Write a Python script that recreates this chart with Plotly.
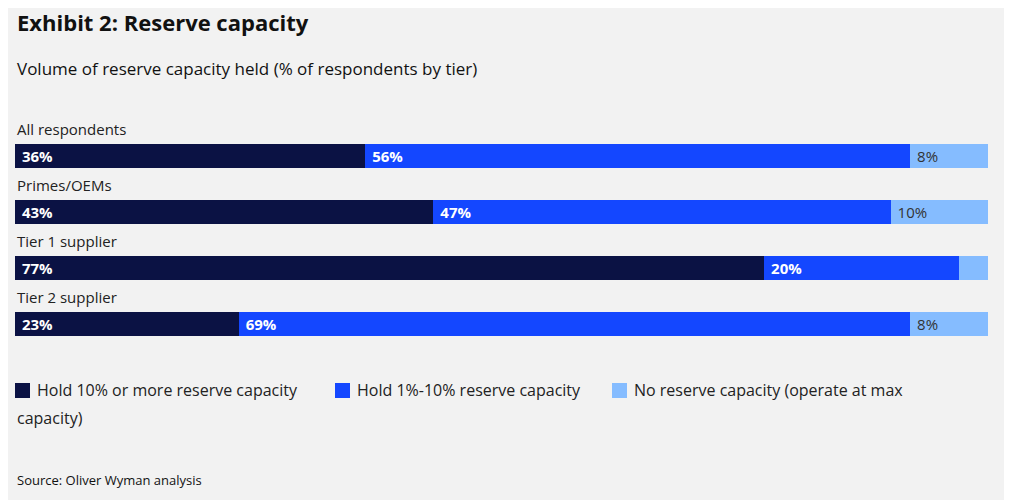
import plotly.graph_objects as go

groups = ["All respondents", "Primes/OEMs", "Tier 1 supplier", "Tier 2 supplier"]
hold_10 = [36, 43, 77, 23]
hold_1_10 = [56, 47, 20, 69]
no_reserve = [8, 10, 3, 8]
series_names = ["Hold 10% or more reserve capacity", "Hold 1%-10% reserve capacity",
                "No reserve capacity (operate at max capacity)"]
colors = ["#0b1244", "#1447ff", "#85bcff"]
text_colors = ["white", "white", "#333333"]
bold = [True, True, False]

# y positions in pixel-like units (axis range matches page height)
y_pos = [156, 212, 268, 324]
font = "Open Sans"

fig = go.Figure()
for name, vals, c, tc, b in zip(series_names, [hold_10, hold_1_10, no_reserve], colors, text_colors, bold):
    fmt = " <b>{}%</b>" if b else " {}%"
    labels = [fmt.format(v) if v >= 5 else "" for v in vals]
    fig.add_trace(go.Bar(
        x=vals, y=y_pos, orientation="h", name=name, marker_color=c, width=24,
        marker_line_width=0,
        text=labels, textposition="inside", insidetextanchor="start",
        textfont=dict(color=tc, size=15, family=font), showlegend=False,
        hoverinfo="skip",
    ))

for g, y in zip(groups, y_pos):
    fig.add_annotation(x=0, y=y - 27, text=g, xref="x", yref="y", showarrow=False,
                       xanchor="left", yanchor="middle",
                       font=dict(size=15, color="#222222", family=font))

# custom legend
leg_items = [(15, series_names[0]), (335, series_names[1]), (612, "No reserve capacity (operate at max")]
for (px, name), c in zip(leg_items, colors):
    fig.add_shape(type="rect", xref="paper", yref="y", x0=(px - 15) / 973, x1=(px - 15 + 15) / 973,
                  y0=383, y1=398, fillcolor=c, line_width=0)
    fig.add_annotation(x=(px - 15 + 20) / 973, y=390, xref="paper", yref="y", text=name,
                       showarrow=False, xanchor="left", yanchor="middle",
                       font=dict(size=16, color="#222222", family=font))
fig.add_annotation(x=0, y=418, xref="paper", yref="y", text="capacity)", showarrow=False,
                   xanchor="left", yanchor="middle", font=dict(size=16, color="#222222", family=font))

fig.add_annotation(x=0, y=22, xref="paper", yref="y", text="<b>Exhibit 2: Reserve capacity</b>",
                   showarrow=False, xanchor="left", yanchor="middle",
                   font=dict(size=22, color="#111111", family=font))
fig.add_annotation(x=0, y=68, xref="paper", yref="y", text="Volume of reserve capacity held (% of respondents by tier)",
                   showarrow=False, xanchor="left", yanchor="middle",
                   font=dict(size=17, color="#111111", family=font))
fig.add_annotation(x=0, y=480, xref="paper", yref="y", text="Source: Oliver Wyman analysis",
                   showarrow=False, xanchor="left", yanchor="middle",
                   font=dict(size=13, color="#111111", family=font))

# page has an 8px body margin, so offset the axes to land on page pixels
fig.update_layout(
    barmode="stack", width=1012, height=500,
    margin=dict(l=7, r=32, t=0, b=0),
    paper_bgcolor="#f2f2f2", plot_bgcolor="#f2f2f2",
    xaxis=dict(range=[0, 100], visible=False, fixedrange=True),
    yaxis=dict(range=[508, 8], visible=False, fixedrange=True),
    uniformtext=dict(minsize=15, mode="show"),
)
fig.write_html("out.html")
